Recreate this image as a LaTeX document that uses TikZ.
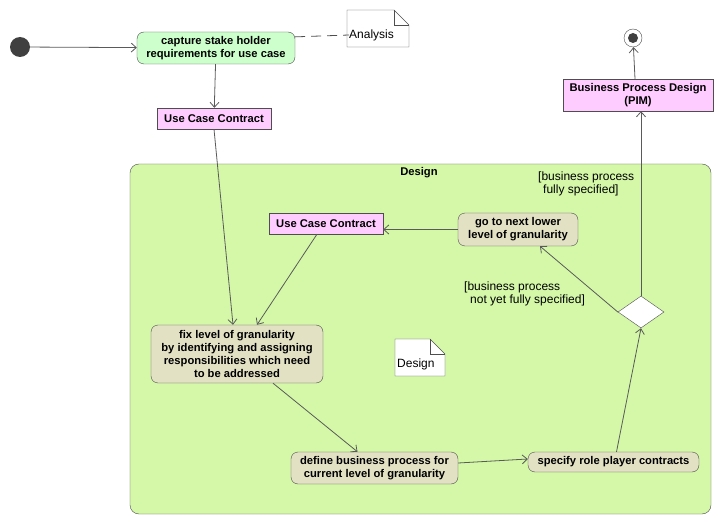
\documentclass[tikz,border=0pt]{standalone}
\usepackage{fontspec}
\setmainfont{Liberation Sans}
\usetikzlibrary{arrows.meta,positioning,shapes.geometric,calc}
\definecolor{edgegray}{RGB}{78,78,78}
\definecolor{flowgray}{RGB}{90,90,90}
\definecolor{startgreen}{RGB}{204,255,204}
\definecolor{artpink}{RGB}{255,204,255}
\definecolor{actkhaki}{RGB}{226,225,196}
\definecolor{designgreen}{RGB}{212,248,168}
\definecolor{dotgray}{RGB}{64,64,64}

\begin{document}
\begin{tikzpicture}[x=1pt, y=-1pt,
    act/.style={draw=edgegray, fill=actkhaki, rounded corners=7pt,
                align=center, inner sep=2pt,
                font=\fontsize{11.2}{13}\selectfont\bfseries},
    artifact/.style={draw=edgegray, fill=artpink, align=center,
                     inner sep=2pt, font=\fontsize{11.2}{13}\selectfont\bfseries},
    guard/.style={align=left, inner sep=0pt,
                  font=\fontsize{12}{13}\selectfont},
    notebox/.style={draw=edgegray, fill=white},
    notetext/.style={inner sep=0pt, font=\fontsize{12}{13}\selectfont},
    flow/.style={-{Straight Barb[length=5pt,width=9pt]}, draw=flowgray, line width=0.8pt}
  ]
  \useasboundingbox (0,0) rectangle (724,524);
  % Design region
  \node[draw=edgegray, fill=designgreen, rounded corners=9pt,
        minimum width=581pt, minimum height=350pt] (design) at (420.5,339) {};
  \node[font=\fontsize{11.2}{13}\selectfont\bfseries] (designtitle) at (419,173) {Design};
  % Notes
  \filldraw[notebox] (347,10) -- (394,10) -- (409,25) -- (409,47) -- (347,47) -- cycle;
  \draw[notebox, fill=none] (394,10) |- (409,25);
  \node[notetext, anchor=west] (analysis) at (349,35) {Analysis};
  \filldraw[notebox] (395,339) -- (430,339) -- (445,354) -- (445,376) -- (395,376) -- cycle;
  \draw[notebox, fill=none] (430,339) |- (445,354);
  \node[notetext, anchor=west] (designnote) at (397,364) {Design};
  % Start and end
  \node[circle, fill=dotgray, minimum size=20pt, inner sep=0pt] (start) at (20,47) {};
  \node[circle, draw=edgegray, fill=white, minimum size=18pt, inner sep=0pt,
        path picture={\fill[dotgray] (path picture bounding box.center) circle (5pt);}]
        (final) at (633,38) {};
  % Actions
  \node[act, fill=startgreen, minimum width=158pt, minimum height=32pt] (capture)
        at (216,48) {capture stake holder\\requirements for use case};
  \node[act, minimum width=120pt, minimum height=33pt] (gonext)
        at (518,229.5) {go to next lower\\level of granularity};
  \node[act, minimum width=172pt, minimum height=58pt] (fix)
        at (237,354) {fix level of granularity\\by identifying and assigning\\responsibilities which need\\to be addressed};
  \node[act, minimum width=167pt, minimum height=32pt] (define)
        at (374.5,468) {define business process for\\current level of granularity};
  \node[act, minimum width=171pt, minimum height=20pt] (specify)
        at (613.5,462) {specify role player contracts};
  \node[diamond, draw=edgegray, fill=white, minimum width=46pt, minimum height=32pt,
        inner sep=0pt] (decision) at (641,312) {};
  % Artifacts
  \node[artifact, minimum width=114pt, minimum height=21pt] (ucc1)
        at (214,118.5) {Use Case Contract};
  \node[artifact, minimum width=114pt, minimum height=21pt] (ucc2)
        at (326,223.5) {Use Case Contract};
  \node[artifact, minimum width=150pt, minimum height=32pt] (bpd)
        at (638,95) {Business Process Design\\(PIM)};
  % Guards
  \node[guard, anchor=west] (guarddone) at (538,183.5)
        {[business process\\\hspace*{5pt}fully specified]};
  \node[guard, anchor=west] (guardopen) at (464,294)
        {[business process\\\hspace*{6pt}not yet fully specified]};
  % Connectors
  \draw[edgegray, dash pattern=on 10pt off 6pt, line width=0.8pt] (capture.8) -- (analysis.west);
  \draw[flow] (start) -- (capture);
  \draw[flow] (capture) -- (ucc1);
  \draw[flow] (ucc1.south) -- ([xshift=-4pt]fix.north);
  \draw[flow] ([xshift=-9pt]ucc2.south) -- ([xshift=20pt]fix.north);
  \draw[flow] (gonext.west) -- (gonext.west -| ucc2.east);
  \draw[flow] ([xshift=36pt]fix.south) -- ([xshift=-17pt]define.north);
  \draw[flow] ([yshift=5pt]define.east) -- ([yshift=3pt]specify.west);
  \draw[flow] ([xshift=3pt]specify.north) -- (decision.south);
  \draw[flow] (decision.west) -- ([xshift=22pt]gonext.south);
  \draw[flow] (decision.north) -- (decision.north |- bpd.south);
  \draw[flow] ([xshift=-3pt]bpd.north) -- (final);
\end{tikzpicture}
\end{document}
